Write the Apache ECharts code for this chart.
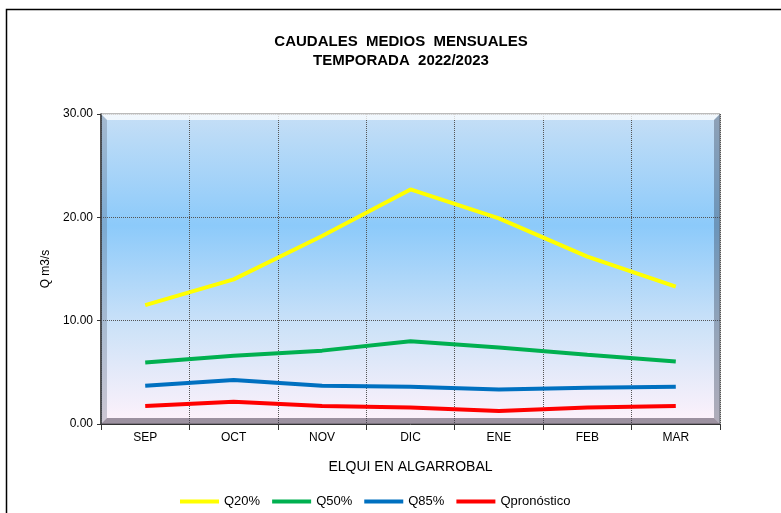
<!DOCTYPE html>
<html><head><meta charset="utf-8">
<script src="https://cdn.jsdelivr.net/npm/echarts@6/dist/echarts.min.js"></script>
<style>html,body{margin:0;padding:0;background:#fff}#c{width:781px;height:513px}</style>
</head><body><div id="c"></div>
<script>
var categories = ['SEP','OCT','NOV','DIC','ENE','FEB','MAR'];
var q20 = [11.5, 14.0, 18.2, 22.7, 19.9, 16.2, 13.3];
var q50 = [5.95, 6.6, 7.1, 8.0, 7.4, 6.7, 6.05];
var q85 = [3.7, 4.25, 3.7, 3.6, 3.35, 3.5, 3.6];
var qpron = [1.75, 2.15, 1.75, 1.6, 1.25, 1.6, 1.75];
var yTicks = [0, 10, 20, 30];

var chart = echarts.init(document.getElementById('c'), null, {renderer:'canvas'});
var F = 'Liberation Sans, Arial, sans-serif';
var G = {left:101, right:61, top:114, bottom:89};
var W = 781 - G.left - G.right, H = 513 - G.top - G.bottom;
var b = 6;
function line(name, data, color){
  return {name:name, type:'line', data:data, symbol:'none', smooth:false,
    lineStyle:{color:color, width:4}, itemStyle:{color:color}, z:5};
}
chart.setOption({
  animation:false,
  title:{text:'CAUDALES  MEDIOS  MENSUALES\nTEMPORADA  2022/2023', left:396, textAlign:'center', top:27,
    textStyle:{fontFamily:F, fontSize:15, fontWeight:'bold', color:'#000', lineHeight:19}},
  graphic:[
    {type:'rect', shape:{x:6.5, y:9.5, width:800, height:600}, style:{fill:null, stroke:'#000', lineWidth:1.5}, z:-10},
    {type:'polygon', z:3, shape:{points:[[G.left,G.top],[G.left+W,G.top],[G.left+W-b,G.top+b],[G.left+b,G.top+b]]}, style:{fill:'rgba(255,255,255,0.75)'}},
    {type:'polygon', z:3, shape:{points:[[G.left,G.top],[G.left+b,G.top+b],[G.left+b,G.top+H-b],[G.left,G.top+H]]}, style:{fill:'rgba(90,100,120,0.3)'}},
    {type:'polygon', z:3, shape:{points:[[G.left+W,G.top],[G.left+W,G.top+H],[G.left+W-b,G.top+H-b],[G.left+W-b,G.top+b]]}, style:{fill:'rgba(60,70,90,0.4)'}},
    {type:'polygon', z:3, shape:{points:[[G.left,G.top+H],[G.left+b,G.top+H-b],[G.left+W-b,G.top+H-b],[G.left+W,G.top+H]]}, style:{fill:'rgba(60,50,70,0.5)'}}
  ],
  grid:{left:G.left, right:G.right, top:G.top, bottom:G.bottom, show:true,
    borderColor:'#777', borderWidth:1,
    backgroundColor:{type:'linear', x:0, y:0, x2:0, y2:1, colorStops:[
      {offset:0, color:'#c6dff6'},{offset:0.36, color:'#8ccafa'},{offset:0.7, color:'#cfe3f8'},{offset:1, color:'#fff2fb'}]}},
  legend:{left:175, top:490, itemWidth:39, itemHeight:4, itemGap:12, icon:'rect',
    textStyle:{fontFamily:F, fontSize:13, color:'#000', padding:[0,0,0,0]},
    data:['Q20%','Q50%','Q85%','Qpronóstico']},
  xAxis:{type:'category', data:categories, boundaryGap:true,
    name:'ELQUI EN ALGARROBAL', nameLocation:'middle', nameGap:36,
    nameTextStyle:{fontFamily:F, fontSize:14, color:'#000'},
    axisLine:{lineStyle:{color:'#333', width:1}},
    axisTick:{show:true, length:6, lineStyle:{color:'#333'}},
    axisLabel:{fontFamily:F, fontSize:12, color:'#000', margin:8},
    splitLine:{show:true, lineStyle:{color:'#555', type:[1,1], width:1}}},
  yAxis:{type:'value', min:yTicks[0], max:yTicks[yTicks.length-1], interval:10,
    name:'Q m3/s', nameLocation:'middle', nameGap:49, nameRotate:90,
    nameTextStyle:{fontFamily:F, fontSize:12, color:'#000'},
    axisLine:{show:true, lineStyle:{color:'#333', width:1.5}},
    axisTick:{show:true, length:4, lineStyle:{color:'#333'}},
    axisLabel:{fontFamily:F, fontSize:12, color:'#000', margin:8, formatter:function(v){return v.toFixed(2);}},
    splitLine:{show:true, lineStyle:{color:'#555', type:[1,1], width:1}}},
  series:[line('Q20%', q20, '#ffff00'), line('Q50%', q50, '#00b050'), line('Q85%', q85, '#0070c0'), line('Qpronóstico', qpron, '#ff0000')]
});
</script></body></html>
